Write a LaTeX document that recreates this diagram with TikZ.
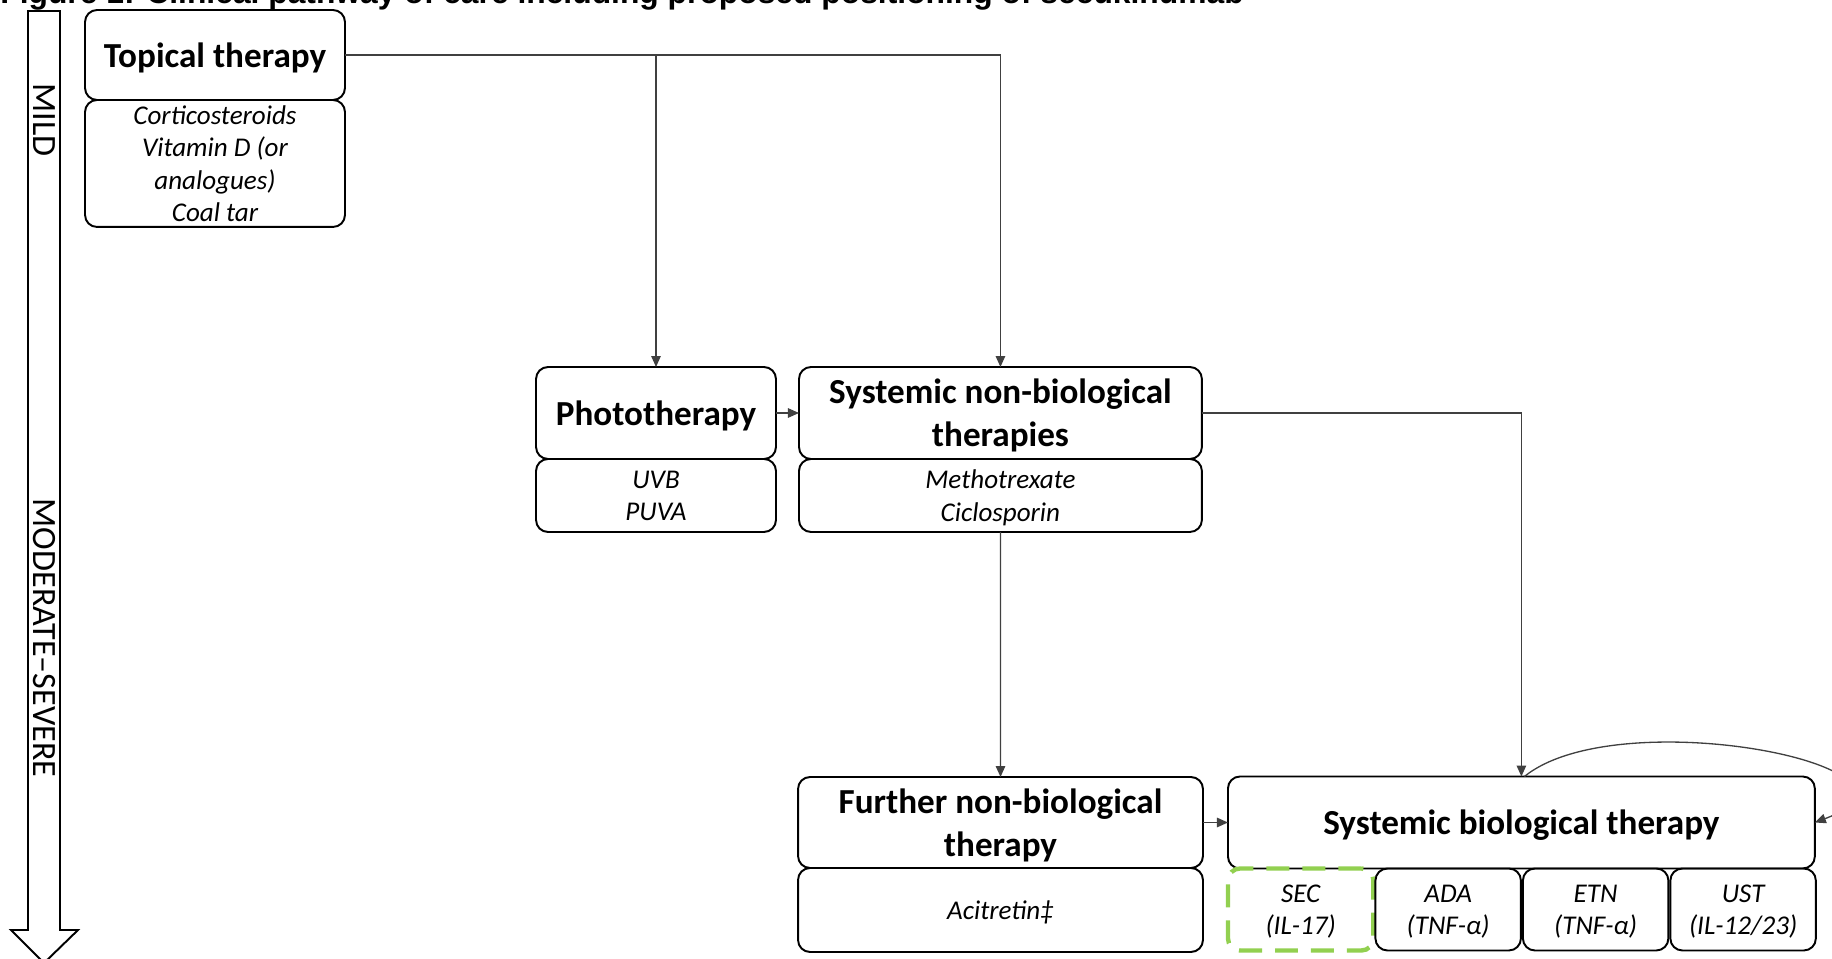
\documentclass[tikz,border=0pt]{standalone}
\usepackage{fontspec}
\setmainfont{Carlito}
\newfontfamily\capfont{Liberation Sans}
\usetikzlibrary{positioning,arrows.meta}

\definecolor{secgreen}{RGB}{146,208,80}

\tikzset{
	head/.style={draw, rounded corners=0.24cm, line width=1.1pt, outer sep=0pt, inner sep=2pt, align=center,
		text depth=0pt, font=\fontsize{20}{24.5}\selectfont\bfseries},
	sub/.style={draw, rounded corners=0.24cm, line width=1.1pt, outer sep=0pt, inner sep=2pt, align=center,
		text depth=0pt, font=\fontsize{15.4}{18.4}\selectfont\itshape},
	secbox/.style={draw=secgreen, line width=2.5pt, dash pattern=on 0.46cm off 0.26cm},
	conn/.style={draw=black!75, line width=0.75pt, -{Triangle[length=0.22cm,width=0.19cm]}},
	sevtext/.style={rotate=-90, font=\fontsize{19.4}{21}\selectfont}
}

\begin{document}
\begin{tikzpicture}[x=0.02cm, y=-0.02cm]
	\useasboundingbox (0,0) rectangle (1832,959);
	\clip (0,0) rectangle (1832,959);
	%% caption (cut at the top)
	\node[anchor=base west, inner sep=0pt, font=\capfont\fontsize{18.1}{20}\selectfont\bfseries] (cap) at (0,4)
		{Figure 1: Clinical pathway of care including proposed positioning of secukinumab};
	%% severity arrow
	\draw[line width=1.1pt] (28,11) -- (60,11) -- (60,930) -- (78,930) -- (44,963) -- (11,930) -- (28,930) -- cycle;
	\node[sevtext] (mild) at (44,120) {MILD};
	\node[sevtext] (sev) at (44,638) {MODERATE–SEVERE};
	%% mild
	\node[head, minimum width=5.2cm, minimum height=1.8cm] (t1) at (215,55) {Topical therapy};
	\node[sub, below=0pt of t1, minimum width=5.2cm, minimum height=2.54cm] (t2) {Corticosteroids\\Vitamin D (or\\analogues)\\Coal tar};
	%% moderate
	\node[head, minimum width=4.8cm, minimum height=1.84cm] (p1) at (656,413) {Phototherapy};
	\node[sub, below=0pt of p1, minimum width=4.8cm, minimum height=1.46cm] (p2) {UVB\\PUVA};
	\node[head, right=0.46cm of p1, minimum width=8.06cm, minimum height=1.84cm] (s1) {Systemic non-biological\\therapies};
	\node[sub, below=0pt of s1, minimum width=8.06cm, minimum height=1.46cm] (s2) {Methotrexate\\Ciclosporin};
	%% severe
	\node[head, minimum width=8.1cm, minimum height=1.82cm] (f1) at (1000.5,822.5) {Further non-biological\\therapy};
	\node[sub, below=0pt of f1, minimum width=8.1cm, minimum height=1.68cm] (f2) {Acitretin‡};
	\node[head, right=0.5cm of f1, minimum width=11.74cm, minimum height=1.84cm] (b1) {Systemic biological therapy};
	\node[sub, secbox, below right=0pt and 0pt of b1.south west, minimum width=2.91cm, minimum height=1.64cm] (b2) {SEC\\(IL-17)};
	\node[sub, right=0.04cm of b2, minimum width=2.91cm, minimum height=1.64cm] (b3) {ADA\\(TNF-α)};
	\node[sub, right=0.04cm of b3, minimum width=2.91cm, minimum height=1.64cm] (b4) {ETN\\(TNF-α)};
	\node[sub, right=0.04cm of b4, minimum width=2.91cm, minimum height=1.64cm] (b5) {UST\\(IL-12/23)};
	% connectors
	\draw[conn] (t1.east) -| (s1.north);
	\draw[conn] (t1.east -| p1.north) -- (p1.north);
	\draw[conn] (p1.east) -- (s1.west);
	\draw[conn] (s1.east) -| (b1.north);
	\draw[conn] (s2.south) -- (f1.north);
	\draw[conn] (f1.east) -- (f1.east -| b1.west);
	\draw[conn] ([xshift=0.06cm]b1.north) .. controls +(95,-77) and +(143,-54) .. (b1.east);
\end{tikzpicture}
\end{document}
